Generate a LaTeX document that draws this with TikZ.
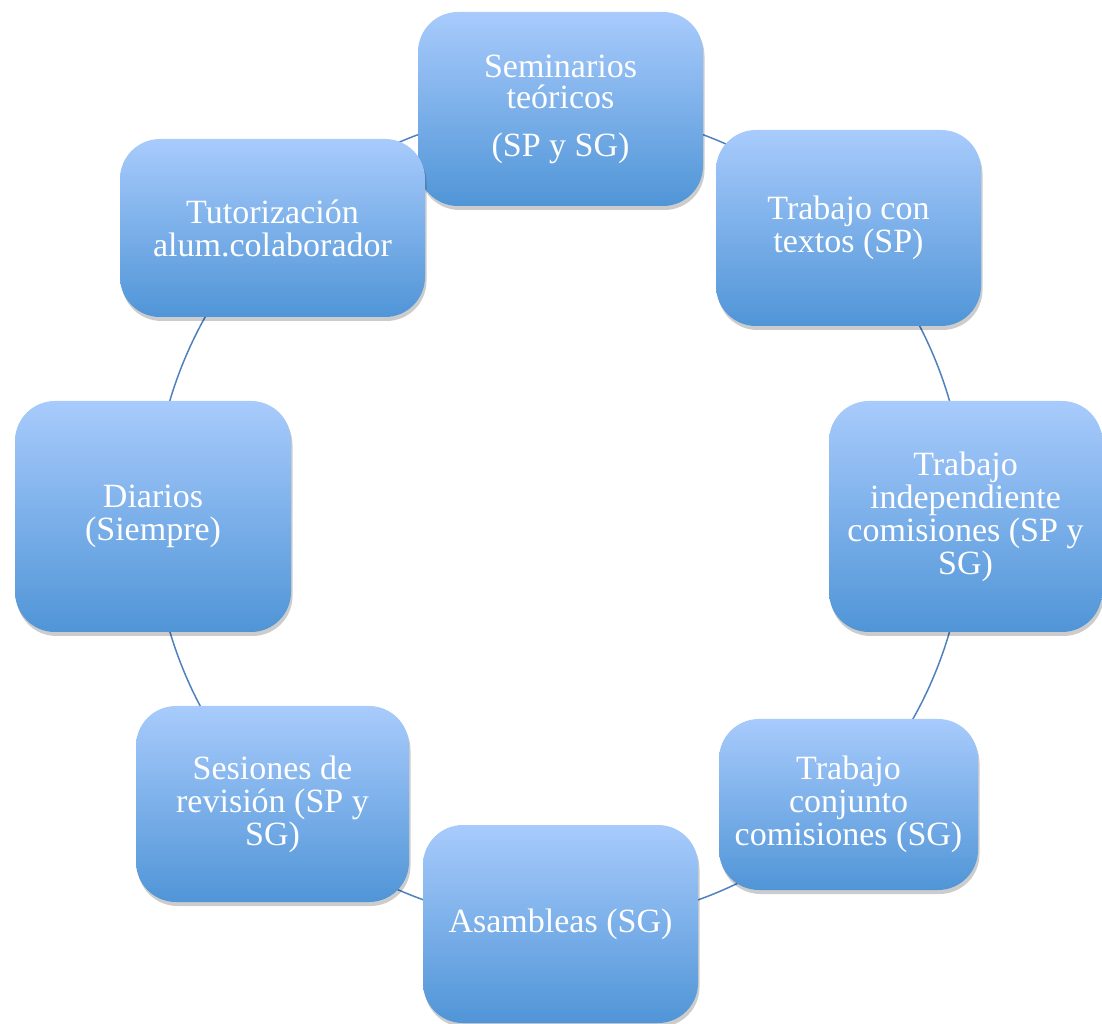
\documentclass[tikz,border=0pt]{standalone}
\usepackage{fontspec}
\setmainfont{Liberation Serif}
\usetikzlibrary{shadows,backgrounds}
\definecolor{boxtop}{RGB}{168,203,252}
\definecolor{boxbot}{RGB}{80,149,215}
\definecolor{arcblue}{RGB}{79,129,189}
\tikzset{
  cbox/.style={draw=none, rounded corners=40pt, top color=boxtop, bottom color=boxbot,
    text=white, align=center, inner sep=0pt,
    font=\fontsize{34pt}{33pt}\selectfont,
    drop shadow={shadow xshift=1.5pt, shadow yshift=-4pt, opacity=0.2, fill=black}},
  conn/.style={draw=arcblue, line width=1.5pt, bend left=22.5, looseness=0.885}
}
\begin{document}
\begin{tikzpicture}[x=1pt,y=1pt]
\useasboundingbox (0,0) rectangle (1102,1023);
\node[cbox, minimum width=285pt, minimum height=194pt, font=\fontsize{34pt}{31.5pt}\selectfont] (sem) at (560.5,914) {Seminarios\\teóricos\\[16pt](SP y SG)};
\node[cbox, minimum width=265pt, minimum height=196pt] (tex) at (848.5,795) {Trabajo con\\textos (SP)};
\node[cbox, minimum width=273pt, minimum height=231pt] (ind) at (965.5,506.5) {Trabajo\\independiente\\comisiones (SP y\\SG)};
\node[cbox, minimum width=259pt, minimum height=171pt] (con) at (848.5,218.5) {Trabajo\\conjunto\\comisiones (SG)};
\node[cbox, minimum width=275pt, minimum height=198pt] (asa) at (560.5,99) {Asambleas (SG)};
\node[cbox, minimum width=273pt, minimum height=196pt] (ses) at (272.5,219) {Sesiones de\\revisión (SP y\\SG)};
\node[cbox, minimum width=276pt, minimum height=231pt] (dia) at (153,506.5) {Diarios\\(Siempre)};
\node[cbox, minimum width=305pt, minimum height=178pt] (tut) at (272.5,795) {Tutorización\\alum.colaborador};
\begin{scope}[on background layer]
\draw[conn] (sem.center) to (tex.center);
\draw[conn] (tex.center) to (ind.center);
\draw[conn] (ind.center) to (con.center);
\draw[conn] (con.center) to (asa.center);
\draw[conn] (asa.center) to (ses.center);
\draw[conn] (ses.center) to (dia.center);
\draw[conn] (dia.center) to (tut.center);
\draw[conn] (tut.center) to (sem.center);
\end{scope}
\end{tikzpicture}
\end{document}
